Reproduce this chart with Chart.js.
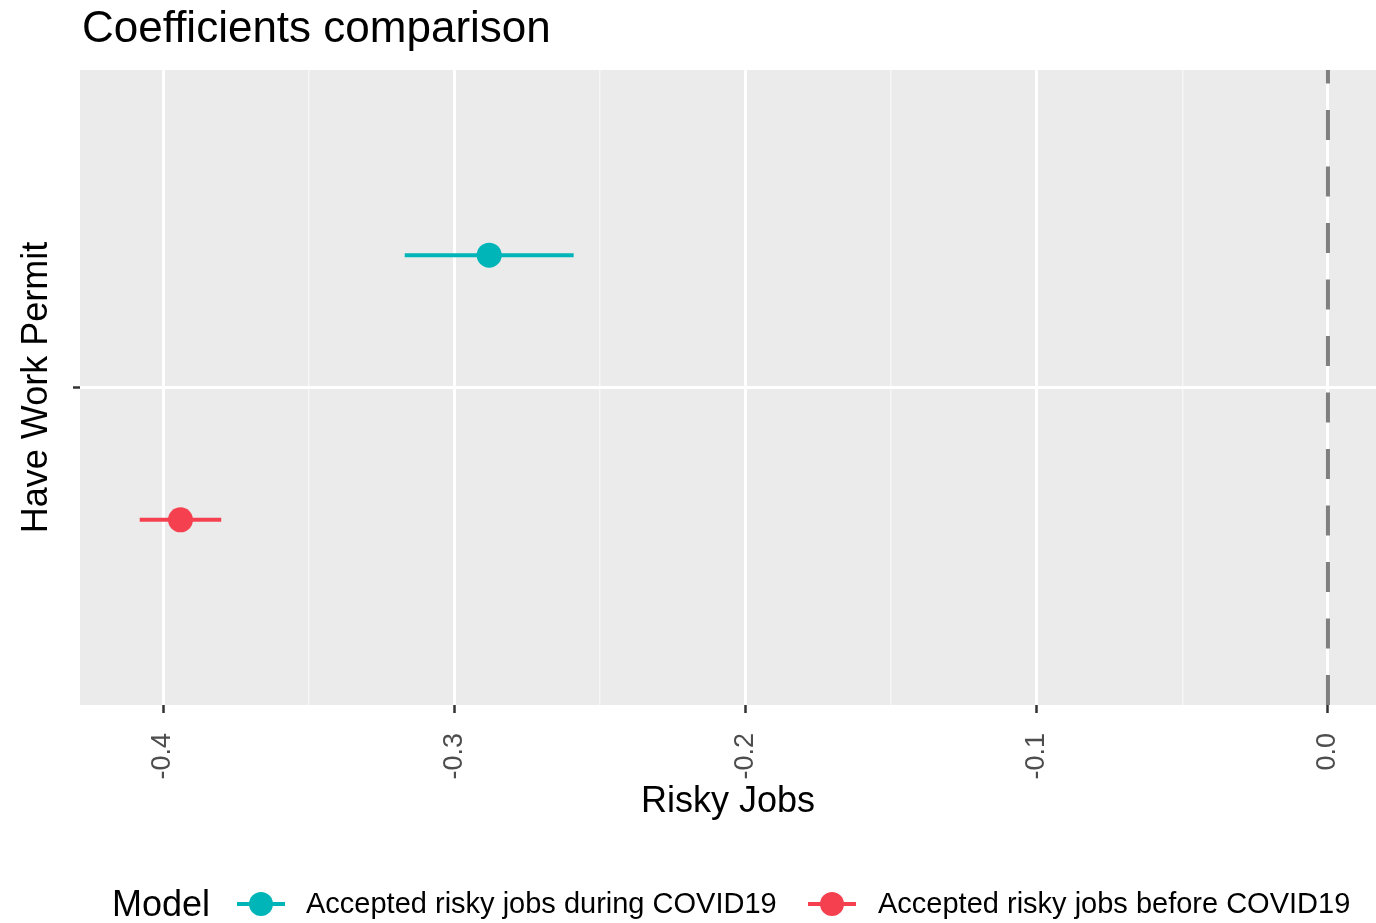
<!DOCTYPE html>
<html>
<head>
<meta charset="utf-8">
<title>Coefficients comparison</title>
<script src="https://cdn.jsdelivr.net/npm/chart.js@4"></script>
<style>
    html, body { margin: 0; padding: 0; background: #ffffff; }
    #wrap { width: 1376px; height: 923px; overflow: hidden; }
</style>
</head>
<body>
<div id="wrap"><canvas id="coefChart" width="1376" height="923"></canvas></div>
<script>
// data
const models = ['Accepted risky jobs during COVID19', 'Accepted risky jobs before COVID19'];
const estimates = [-0.288, -0.394];
const lowerCI = [-0.317, -0.408];
const upperCI = [-0.259, -0.380];
const dodgeY = [1.25, 0.75];          // dodged positions around the single category
const modelColors = ['#00B5B8', '#F4404F'];
const xTicks = [-0.4, -0.35, -0.3, -0.25, -0.2, -0.15, -0.1, -0.05, 0.0];
const yCategories = ['Have Work Permit'];
const refLine = 0.0;

const FONT = "'Liberation Sans', Arial, Helvetica, sans-serif";

function isMajor(v) {
    return Math.abs(v * 10 - Math.round(v * 10)) < 1e-6;
}

// panel background + title + ggplot-style legend
const ggPlugin = {
    id: 'ggExtras',
    beforeDraw(chart) {
        const { ctx, chartArea: a } = chart;
        ctx.save();
        ctx.fillStyle = '#EBEBEB';
        ctx.fillRect(a.left, a.top, a.right - a.left, a.bottom - a.top);
        ctx.restore();
    },
    afterDraw(chart) {
        const ctx = chart.ctx;
        ctx.save();
        ctx.fillStyle = '#000000';
        ctx.textBaseline = 'alphabetic';
        ctx.textAlign = 'left';
        ctx.font = `44px ${FONT}`;
        ctx.fillText('Coefficients comparison', 82, 42);

        // legend
        const cy = 904;
        ctx.textBaseline = 'middle';
        ctx.font = `36px ${FONT}`;
        ctx.fillText('Model', 112, cy + 2);
        const glyphX = [237, 808];
        const textX = [306, 878];
        models.forEach((m, i) => {
            ctx.strokeStyle = modelColors[i];
            ctx.lineWidth = 4;
            ctx.beginPath();
            ctx.moveTo(glyphX[i], cy);
            ctx.lineTo(glyphX[i] + 48, cy);
            ctx.stroke();
            ctx.fillStyle = modelColors[i];
            ctx.beginPath();
            ctx.arc(glyphX[i] + 24, cy, 12, 0, Math.PI * 2);
            ctx.fill();
            ctx.fillStyle = '#000000';
            ctx.font = `29px ${FONT}`;
            ctx.fillText(m, textX[i], cy + 1);
        });
        ctx.restore();
    }
};

const datasets = [];
// dashed reference line at zero
datasets.push({
    type: 'line',
    label: 'zero',
    data: [{ x: refLine, y: 0.4 }, { x: refLine, y: 1.6 }],
    borderColor: '#7F7F7F',
    borderWidth: 4,
    borderDash: [30, 26.5],
    pointRadius: 0,
});
models.forEach((m, i) => {
    datasets.push({
        type: 'line',
        label: m + ' CI',
        data: [{ x: lowerCI[i], y: dodgeY[i] }, { x: upperCI[i], y: dodgeY[i] }],
        borderColor: modelColors[i],
        borderWidth: 4,
        pointRadius: 0,
    });
    datasets.push({
        type: 'scatter',
        label: m,
        data: [{ x: estimates[i], y: dodgeY[i] }],
        backgroundColor: modelColors[i],
        borderColor: modelColors[i],
        pointRadius: 12.5,
        borderWidth: 0,
    });
});

new Chart(document.getElementById('coefChart').getContext('2d'), {
    type: 'scatter',
    data: { datasets },
    plugins: [ggPlugin],
    options: {
        responsive: false,
        animation: false,
        layout: { autoPadding: false, padding: { top: 70, bottom: 93, left: 0, right: 0 } },
        plugins: { legend: { display: false }, tooltip: { enabled: false }, title: { display: false } },
        scales: {
            x: {
                type: 'linear',
                min: -0.4285,
                max: 0.0165,
                afterBuildTicks: (scale) => { scale.ticks = xTicks.map(v => ({ value: v })); },
                afterFit: (scale) => {
                    scale.height = 125;
                    scale.paddingLeft = 0;
                    scale.paddingRight = 0;
                },
                border: { display: false },
                grid: {
                    color: (c) => isMajor(c.tick.value) ? '#FFFFFF' : '#F6F6F6',
                    lineWidth: (c) => isMajor(c.tick.value) ? 3 : 1.5,
                    tickColor: (c) => isMajor(c.tick.value) ? '#333333' : 'rgba(0,0,0,0)',
                    tickWidth: 2.5,
                    tickLength: 8,
                },
                ticks: {
                    autoSkip: false,
                    minRotation: 90,
                    maxRotation: 90,
                    padding: 20,
                    color: '#4D4D4D',
                    font: { family: FONT, size: 27 },
                    callback: (v) => isMajor(v) ? Math.abs(v).toFixed(1) === '0.0' ? '0.0' : v.toFixed(1) : '',
                },
                title: {
                    display: true,
                    text: 'Risky Jobs',
                    color: '#000000',
                    font: { family: FONT, size: 36 },
                    padding: { top: 0, bottom: 6 },
                },
            },
            y: {
                type: 'linear',
                min: 0.4,
                max: 1.6,
                afterBuildTicks: (scale) => { scale.ticks = yCategories.map((c, i) => ({ value: i + 1 })); },
                afterFit: (scale) => {
                    scale.width = 80;
                    scale.paddingTop = 0;
                    scale.paddingBottom = 0;
                },
                border: { display: false },
                grid: {
                    color: '#FFFFFF',
                    lineWidth: 3,
                    tickColor: '#333333',
                    tickWidth: 2.5,
                    tickLength: 7,
                },
                ticks: {
                    padding: 2,
                    callback: () => '',
                },
                title: {
                    display: true,
                    text: yCategories[0],
                    color: '#000000',
                    font: { family: FONT, size: 36 },
                    padding: { top: 15, bottom: 0 },
                },
            },
        },
    },
});
</script>
</body>
</html>
